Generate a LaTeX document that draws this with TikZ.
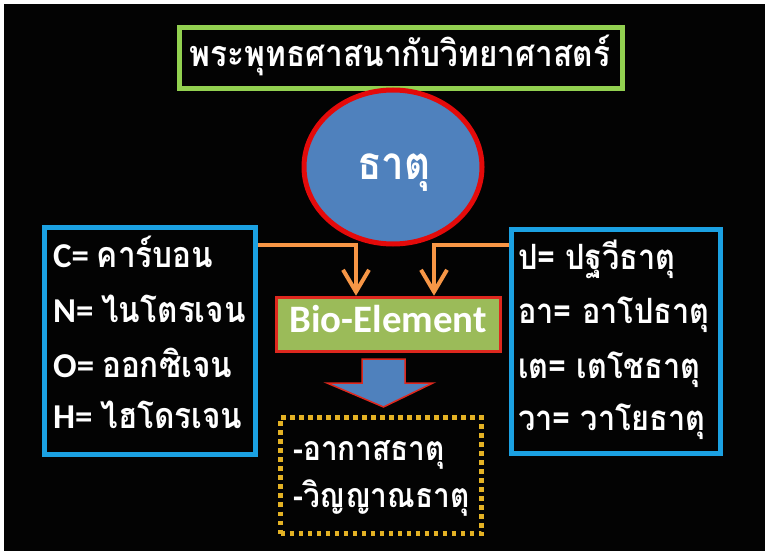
\documentclass[tikz,border=0pt]{standalone}
\usepackage{fontspec}
\setmainfont{Carlito}
\newfontfamily\thaifont[Script=Thai,FakeStretch=0.88]{Loma}
\usetikzlibrary{arrows.meta,shapes.geometric}
\definecolor{bgblack}{RGB}{3,3,3}
\definecolor{titlegreen}{RGB}{146,208,80}
\definecolor{boxblue}{RGB}{27,161,226}
\definecolor{ellblue}{RGB}{79,129,189}
\definecolor{ellred}{RGB}{228,10,10}
\definecolor{biogreen}{RGB}{155,187,89}
\definecolor{biored}{RGB}{222,40,30}
\definecolor{arrorange}{RGB}{247,150,70}
\definecolor{dotyellow}{RGB}{228,178,36}
\tikzset{
  framebox/.style={draw=boxblue, line width=5bp, inner sep=0},
  rowtext/.style={text=white, font=\bfseries\fontsize{35}{35}\selectfont, inner sep=0, anchor=base west},
  thairow/.style={rowtext, font=\thaifont\bfseries\fontsize{35}{35}\selectfont},
  feed/.style={draw=arrorange, line width=4bp, -{Straight Barb[length=22bp,width=26bp,line width=4bp]}},
}
\begin{document}
\begin{tikzpicture}[x=1bp,y=-1bp]
\useasboundingbox (0,0) rectangle (766,554);
\fill[white] (0,0) rectangle (766,554);
\fill[bgblack] (4,4) rectangle (765,551);
% title
\node[draw=titlegreen, line width=5bp, minimum width=443bp, minimum height=61bp, inner sep=0] (title) at (401,58) {};
\node[text=white, font=\thaifont\bfseries\fontsize{36}{36}\selectfont, inner sep=0, anchor=base] (titletext) at (400,67) {พระพุทธศาสนากับวิทยาศาสตร์};
% ellipse
\node[ellipse, draw=ellred, fill=ellblue, line width=5bp, minimum width=178bp, minimum height=154bp, inner sep=0] (dhatu) at (393,167) {};
\node[text=white, font=\thaifont\bfseries\fontsize{46}{46}\selectfont, inner sep=0, anchor=base] (dhatutext) at (394,180) {ธาตุ};
% left box
\node[framebox, minimum width=211bp, minimum height=227bp] (lbox) at (150,341) {};
\node[rowtext] (l1) at (53,268) {C= {\thaifont\fontsize{36}{36}\selectfont คาร์บอน}};
\node[rowtext] (l2) at (53,322) {N= {\thaifont\fontsize{36}{36}\selectfont ไนโตรเจน}};
\node[rowtext] (l3) at (53,377) {O= {\thaifont\fontsize{36}{36}\selectfont ออกซิเจน}};
\node[rowtext] (l4) at (53,428) {H= {\thaifont\fontsize{36}{36}\selectfont ไฮโดรเจน}};
% right box
\node[framebox, minimum width=209bp, minimum height=224bp] (rbox) at (616,341.5) {};
\node[thairow] (r1) at (518,270) {ป= ปฐวีธาตุ};
\node[thairow] (r2) at (518,323) {อา= อาโปธาตุ};
\node[thairow] (r3) at (518,378) {เต= เตโชธาตุ};
\node[thairow] (r4) at (518,430) {วา= วาโยธาตุ};
% bio element
\node[draw=biored, fill=biogreen, line width=3.5bp, minimum width=224bp, minimum height=54bp, inner sep=0] (bio) at (388.5,324.5) {};
\node[text=white, font=\bfseries\fontsize{39}{39}\selectfont, inner sep=0, anchor=base] (biotext) at (388,332) {Bio-Element};
% connectors
\coordinate (lj) at (356,245);
\coordinate (rj) at (434,245);
\draw[feed] (lbox.east |- lj) -| (bio.north -| lj);
\draw[feed] (rbox.west |- rj) -| (bio.north -| rj);
% block arrow
\filldraw[fill=ellblue, draw=biored, line width=1.5bp]
  (362,359) -- (405,359) -- (405,383) -- (433,383) -- (383.5,407) -- (327,383) -- (362,383) -- cycle;
% dotted box
\node[draw=dotyellow, line width=5bp, dash pattern=on 4.5bp off 4.5bp, minimum width=201bp, minimum height=116bp, inner sep=0] (dbox) at (381,475.5) {};
\node[thairow, font=\thaifont\bfseries\fontsize{34}{34}\selectfont] (d1) at (293,460) {-อากาสธาตุ};
\node[thairow, font=\thaifont\bfseries\fontsize{34}{34}\selectfont] (d2) at (293,507) {-วิญญาณธาตุ};
\end{tikzpicture}
\end{document}
